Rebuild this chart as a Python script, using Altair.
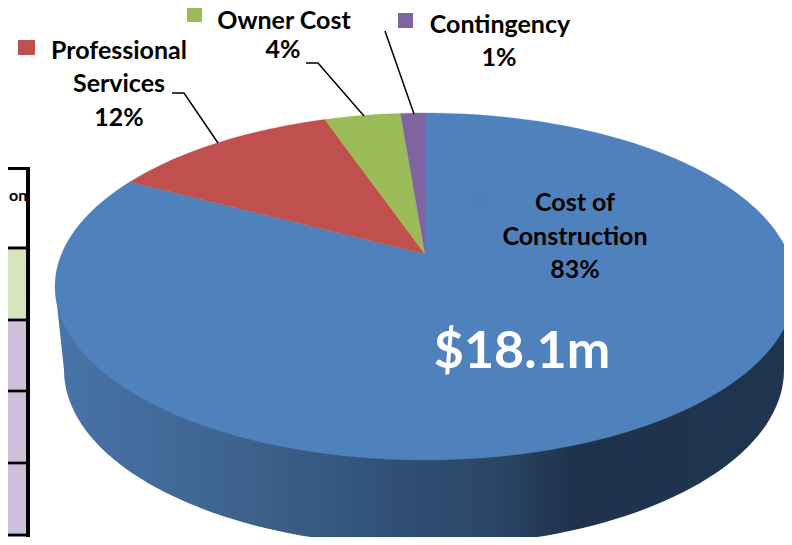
import math
import altair as alt
import pandas as pd

# --- values
categories = ["Cost of Construction", "Professional Services", "Owner Cost", "Contingency"]
shares = [83.05, 11.8, 3.9, 1.25]
colors = ["#4f81bd", "#c0504d", "#9bbb59", "#8064a2"]

label_lines = ["Cost of", "Construction", "83%", "Professional", "Services", "12%",
               "Owner Cost", "4%", "Contingency", "1%"]
label_x = [575, 575, 575, 119, 119, 119, 284, 283, 500, 499]
label_y = [203, 237, 270, 51, 84, 118, 21, 50, 25, 58]

# --- page layout (picture pixels)
W, H = 792, 545
M = 8
TOP = dict(cx=425, cy=286.5, rx=370, ry=173.5, apex=254, k=0.845)
BASE = dict(cx=424, cy=370, rx=360, ry=176)

def top_point(theta_deg):
    t = math.radians(theta_deg)
    phi = 2 * math.atan2(TOP["k"] * math.sin(t / 2), math.cos(t / 2))
    return TOP["cx"] + TOP["rx"] * math.sin(phi), TOP["cy"] - TOP["ry"] * math.cos(phi)

slices = []
start = 0.0
for cat, share, col in zip(categories, shares, colors):
    sweep = share * 3.6
    n = max(2, int(sweep / 1.5))
    rows = [(TOP["cx"], TOP["apex"])]
    rows += [top_point(start + sweep * i / n) for i in range(n + 1)]
    rows += [(TOP["cx"], TOP["apex"])]
    slices.append((cat, col, pd.DataFrame(
        [{"x": x, "y": y, "o": i} for i, (x, y) in enumerate(rows)])))
    start += sweep

side_rows = [(TOP["cx"] - TOP["rx"], TOP["cy"])]
for i in range(0, 181, 2):
    a = math.radians(i)
    side_rows.append((BASE["cx"] - BASE["rx"] * math.cos(a), BASE["cy"] + BASE["ry"] * math.sin(a)))
side_rows.append((TOP["cx"] + TOP["rx"], TOP["cy"]))
side_df = pd.DataFrame([{"x": x, "y": y, "o": i} for i, (x, y) in enumerate(side_rows)])

PW, PH = W - 2 * M, H - 2 * M
x_scale = alt.Scale(domain=[M, M + PW], range=[0, PW])
y_scale = alt.Scale(domain=[M, M + PH], range=[0, PH])
X = alt.X("x:Q", scale=x_scale, axis=None)
Y = alt.Y("y:Q", scale=y_scale, axis=None)

side_gradient = alt.Gradient(
    gradient="linear", x1=0, x2=1, y1=0, y2=0,
    stops=[
        alt.GradientStop(offset=0.0, color="#4874a8"),
        alt.GradientStop(offset=0.27, color="#3d618c"),
        alt.GradientStop(offset=0.47, color="#2f4f75"),
        alt.GradientStop(offset=0.60, color="#2a4565"),
        alt.GradientStop(offset=0.70, color="#1f324c"),
        alt.GradientStop(offset=1.0, color="#1f3550"),
    ],
)

layers = [
    alt.Chart(side_df).mark_line(fill=side_gradient, strokeWidth=0, clip=True).encode(x=X, y=Y, order="o:Q")
]
for cat, col, df in slices:
    layers.append(alt.Chart(df).mark_line(fill=col, stroke=col, strokeWidth=0.3, clip=True).encode(x=X, y=Y, order="o:Q"))

# table fragment at the left edge
cell_df = pd.DataFrame({
    "x": [M] * 6,
    "x2": [27] * 6,
    "y": [170, 250, 322, 393, 465, 537],
    "y2": [246, 318, 389, 461, 533, M + PH],
    "c": ["#ffffff", "#d8e4bc", "#ccc0da", "#ccc0da", "#ccc0da", "#fcd5b4"],
})
layers.append(alt.Chart(cell_df).mark_rect().encode(
    x=X, x2="x2:Q", y=Y, y2="y2:Q", color=alt.Color("c:N", scale=None)))
hline_df = pd.DataFrame({"x": [M] * 6, "x2": [30] * 6, "y": [168.5, 248, 320, 391, 463, 535]})
layers.append(alt.Chart(hline_df).mark_rule(color="#000000", strokeWidth=3).encode(x=X, x2="x2:Q", y=Y))
layers.append(alt.Chart(pd.DataFrame({"x": [28], "y": [167], "y2": [M + PH]}))
              .mark_rule(color="#000000", strokeWidth=4).encode(x=X, y=Y, y2="y2:Q"))
layers.append(alt.Chart(pd.DataFrame({"x": [9], "y": [196], "t": ["on"]}))
              .mark_text(font="Lato", fontWeight="bold", fontSize=16, align="left", baseline="middle", color="#000000")
              .encode(x=X, y=Y, text="t:N"))

# leader lines
leaders = pd.DataFrame({
    "g": [0, 0, 0, 1, 1, 1, 2, 2],
    "o": [0, 1, 2, 0, 1, 2, 0, 1],
    "x": [172, 184, 218, 306, 318, 364, 385, 414],
    "y": [93, 93, 143, 63, 63, 116, 31, 114],
})
layers.append(alt.Chart(leaders).mark_line(color="#000000", strokeWidth=1.5).encode(
    x=X, y=Y, detail="g:N", order="o:Q"))

# legend keys
keys = pd.DataFrame({
    "x": [472, 18, 187, 398], "x2": [486, 35, 202, 413],
    "y": [193, 40, 8, 13], "y2": [207, 55, 22, 28],
    "c": ["#4e7fb9", colors[1], colors[2], colors[3]],
})
layers.append(alt.Chart(keys).mark_rect().encode(
    x=X, x2="x2:Q", y=Y, y2="y2:Q", color=alt.Color("c:N", scale=None)))

labels = pd.DataFrame({"x": label_x, "y": label_y, "t": label_lines})
layers.append(alt.Chart(labels).mark_text(
    font="Lato", fontWeight="bold", fontSize=25, align="center", baseline="middle", color="#000000"
).encode(x=X, y=Y, text="t:N"))

layers.append(alt.Chart(pd.DataFrame({"x": [522], "y": [352], "t": ["$18.1m"]})).mark_text(
    font="Lato", fontWeight="bold", fontSize=52, align="center", baseline="middle", color="#ffffff"
).encode(x=X, y=Y, text="t:N"))

chart = alt.layer(*layers).properties(
    width=PW, height=PH, padding=0,
    autosize=alt.AutoSizeParams(type="none"),
    background="#ffffff",
).configure_view(stroke=None)

chart.save("out.html", embed_options={"renderer": "svg", "actions": False})
